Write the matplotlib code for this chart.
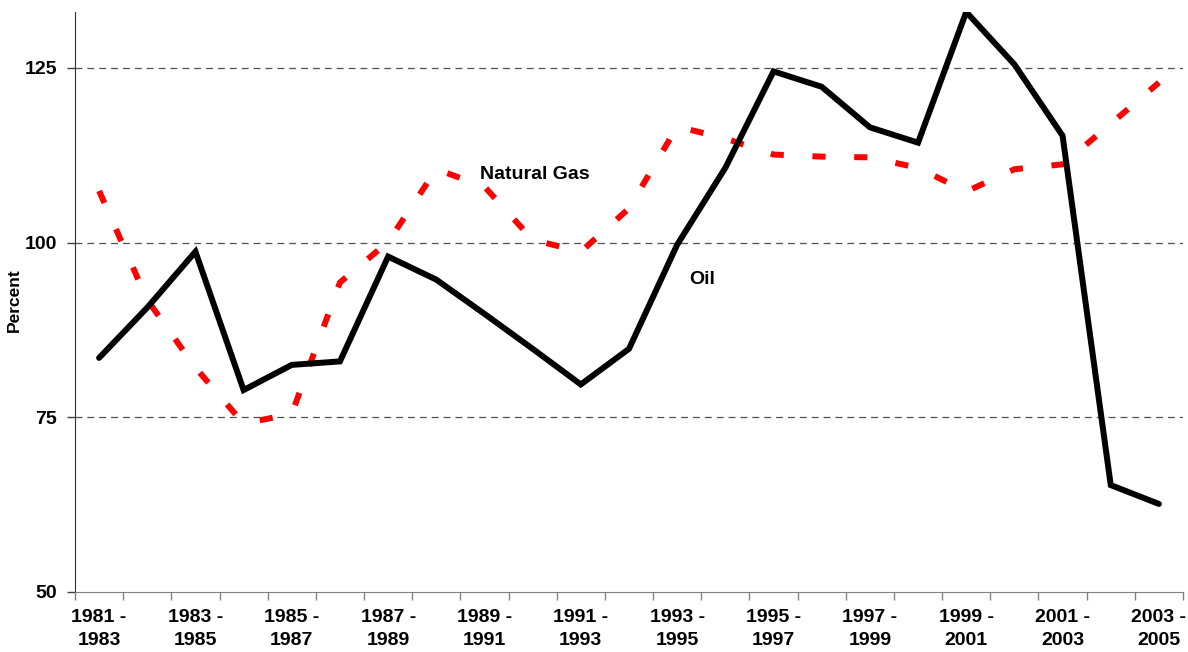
import numpy as np
import matplotlib
matplotlib.use("Agg")
import matplotlib.pyplot as plt

plt.rcParams["font.family"] = ["Liberation Sans", "DejaVu Sans"]
plt.rcParams["font.weight"] = "bold"

# 3-year periods, 1981-1983 .. 2003-2005
periods = [f"{y} -\n{y + 2}" for y in range(1981, 2004)]
oil = [83.5, 90.7, 98.7, 78.9, 82.5, 83.0, 98.0, 94.7, 89.8, 84.8, 79.7, 84.8,
       99.7, 110.7, 124.5, 122.3, 116.5, 114.3, 133.0, 125.5, 115.3, 65.3, 62.6]
gas = [107.4, 91.8, 82.1, 74.1, 75.5, 94.3, 100.1, 110.5, 108.0, 100.4, 98.7, 104.9,
       116.6, 114.9, 112.6, 112.3, 112.2, 110.7, 107.3, 110.5, 111.2, 117.0, 122.9]
yticks = [50, 75, 100, 125]

fig = plt.figure(figsize=(11.88, 6.52), dpi=100)
ax = fig.add_axes([75 / 1188, 1 - 592 / 652, 1108 / 1188, 580 / 652])

x = np.arange(len(periods))

# gridlines (dashed) at the labelled values above the floor
for v in yticks[1:]:
    ax.axhline(v, color="#505050", lw=0.9, dashes=(5.5, 4.0), zorder=1)

ax.plot(x, gas, color="#FF0000", lw=4.3, linestyle=(0, (2.2, 4.8)),
        dash_capstyle="butt", zorder=3)
ax.plot(x, oil, color="black", lw=4.3, solid_capstyle="round",
        solid_joinstyle="miter", zorder=4)

ax.text(7.91, 109.7, "Natural Gas", fontsize=14, fontweight="bold",
        ha="left", va="center")
ax.text(12.25, 94.7, "Oil", fontsize=14, fontweight="bold",
        ha="left", va="center")

ax.set_xlim(-0.5, len(periods) - 0.5)
ax.set_ylim(50, 133)

# tick marks at category boundaries, labels on every other category
ax.set_xticks(np.arange(-0.5, len(periods), 1.0))
ax.set_xticklabels([])
ax.set_xticks(x[::2], minor=True)
ax.set_xticklabels(periods[::2], minor=True, fontsize=14, fontweight="bold",
                   linespacing=1.45)
ax.tick_params(axis="x", which="major", length=6, color="#808080", width=1)
ax.tick_params(axis="x", which="minor", length=0, pad=12)

ax.set_yticks(yticks)
ax.set_yticklabels([str(v) for v in yticks], fontsize=14, fontweight="bold")
ax.tick_params(axis="y", length=6, width=1, pad=7, color="#404040")

for s in ("top", "right"):
    ax.spines[s].set_visible(False)
ax.spines["left"].set_color("#303030")
ax.spines["bottom"].set_color("#808080")

fig.text(14 / 1188, 1 - 300 / 652, "Percent", rotation=90, ha="center",
         va="center", fontsize=12.5, fontweight="bold")

fig.savefig("out.png", dpi=100)
